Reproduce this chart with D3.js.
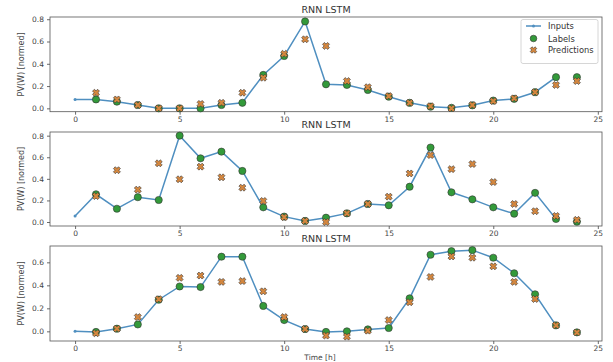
<!DOCTYPE html>
<html>
<head>
<meta charset="utf-8">
<script src="https://cdn.jsdelivr.net/npm/d3@7"></script>
<style>
  body { margin: 0; background: #fff; }
  text { font-family: "DejaVu Sans", sans-serif; }
</style>
</head>
<body>
<script>
"use strict"

var width = 613, height = 362;

// data, one array per panel and series
var inputIdx = d3.range(0, 24);
var labelIdx = d3.range(1, 25);

var inputs1 = [0.08, 0.08, 0.06, 0.03, 0.0, 0.0, 0.0, 0.03, 0.05, 0.30, 0.47, 0.78, 0.216, 0.21, 0.165, 0.105, 0.05, 0.015, 0.005, 0.027, 0.07, 0.085, 0.145, 0.28];
var labels1 = [0.08, 0.06, 0.03, 0.0, 0.0, 0.0, 0.03, 0.05, 0.30, 0.47, 0.78, 0.216, 0.21, 0.165, 0.105, 0.05, 0.015, 0.005, 0.027, 0.07, 0.085, 0.145, 0.28, 0.28];
var preds1  = [0.14, 0.08, 0.03, 0.0, 0.0, 0.04, 0.05, 0.14, 0.275, 0.49, 0.62, 0.56, 0.245, 0.19, 0.11, 0.05, 0.02, 0.0, 0.03, 0.065, 0.09, 0.145, 0.21, 0.245];

var inputs2 = [0.056, 0.257, 0.123, 0.23, 0.204, 0.80, 0.59, 0.652, 0.473, 0.136, 0.05, 0.01, 0.04, 0.08, 0.167, 0.155, 0.327, 0.69, 0.275, 0.21, 0.136, 0.077, 0.27, 0.028];
var labels2 = [0.257, 0.123, 0.23, 0.204, 0.80, 0.59, 0.652, 0.473, 0.136, 0.05, 0.01, 0.04, 0.08, 0.167, 0.155, 0.327, 0.69, 0.275, 0.21, 0.136, 0.077, 0.27, 0.028, 0.003];
var preds2  = [0.24, 0.48, 0.30, 0.544, 0.396, 0.513, 0.414, 0.318, 0.195, 0.045, 0.01, 0.0, 0.08, 0.167, 0.235, 0.45, 0.62, 0.49, 0.537, 0.37, 0.167, 0.10, 0.056, 0.02];

var inputs3 = [0.0, -0.005, 0.023, 0.06, 0.275, 0.39, 0.385, 0.649, 0.649, 0.221, 0.098, 0.02, -0.005, 0.0, 0.017, 0.029, 0.287, 0.666, 0.697, 0.706, 0.64, 0.505, 0.322, 0.052];
var labels3 = [-0.005, 0.023, 0.06, 0.275, 0.39, 0.385, 0.649, 0.649, 0.221, 0.098, 0.02, -0.005, 0.0, 0.017, 0.029, 0.287, 0.666, 0.697, 0.706, 0.64, 0.505, 0.322, 0.052, -0.009];
var preds3  = [-0.017, 0.023, 0.124, 0.28, 0.465, 0.485, 0.43, 0.437, 0.348, 0.124, 0.02, -0.037, -0.046, 0.006, 0.098, 0.253, 0.473, 0.651, 0.64, 0.565, 0.43, 0.281, 0.052, -0.01];

var yTicks1 = [0, 0.2, 0.4, 0.6, 0.8];
var yTicks3 = [0, 0.2, 0.4, 0.6];
var xTicks = [0, 5, 10, 15, 20, 25];

var panels = [
    {inputs: inputs1, labels: labels1, preds: preds1, yDomain: [-0.03, 0.82], yTicks: yTicks1, top: 17, bottom: 111.7},
    {inputs: inputs2, labels: labels2, preds: preds2, yDomain: [-0.037, 0.834], yTicks: yTicks1, top: 132, bottom: 226},
    {inputs: inputs3, labels: labels3, preds: preds3, yDomain: [-0.084, 0.742], yTicks: yTicks3, top: 246, bottom: 341}
];

var left = 50, right = 602;

var svg = d3.select("body").append("svg")
    .attr("width", width)
    .attr("height", height);

var x = d3.scaleLinear().domain([-1.2, 25.2]).range([left, right]);

var lineColor = "#4f8fc0",
    labelColor = "#339a3a",
    predColor = "#d4873f",
    edgeColor = "#333",
    textColor = "#444";

// fat X marker (matplotlib 'X')
function xMarker(s) {
    var a = s * 0.5, b = s * 0.27;
    return "M" + (-a) + "," + (-a + b) + "L" + (-a + b) + "," + (-a) + "L0," + (-b) +
        "L" + (a - b) + "," + (-a) + "L" + a + "," + (-a + b) + "L" + b + ",0" +
        "L" + a + "," + (a - b) + "L" + (a - b) + "," + a + "L0," + b +
        "L" + (-a + b) + "," + a + "L" + (-a) + "," + (a - b) + "L" + (-b) + ",0Z";
}

panels.forEach(function(p) {
    var y = d3.scaleLinear().domain(p.yDomain).range([p.bottom, p.top]);
    var g = svg.append("g");

    // axes
    var xAxis = d3.axisBottom(x).tickValues(xTicks).tickFormat(d3.format("d")).tickSize(3).tickPadding(2);
    var yAxis = d3.axisLeft(y).tickValues(p.yTicks).tickFormat(d3.format(".1f")).tickSize(3).tickPadding(3);

    var gx = g.append("g").attr("transform", "translate(0," + p.bottom + ")").call(xAxis);
    var gy = g.append("g").attr("transform", "translate(" + left + ",0)").call(yAxis);
    [gx, gy].forEach(function(a) {
        a.select(".domain").remove();
        a.selectAll("line").attr("stroke", "#444").attr("stroke-width", 0.8);
        a.selectAll("text").attr("fill", textColor).attr("font-size", "7.5px")
            .style("font-family", "'DejaVu Sans', sans-serif");
    });

    // frame
    g.append("rect")
        .attr("x", left).attr("y", p.top)
        .attr("width", right - left).attr("height", p.bottom - p.top)
        .attr("fill", "none").attr("stroke", "#555").attr("stroke-width", 0.8);

    // title
    g.append("text")
        .attr("x", 326).attr("y", p.top - 4)
        .attr("text-anchor", "middle").attr("font-size", "9.5px")
        .attr("fill", "#333")
        .text("RNN LSTM");

    // y label
    g.append("text")
        .attr("transform", "translate(" + 24 + "," + ((p.top + p.bottom) / 2) + ") rotate(-90)")
        .attr("text-anchor", "middle").attr("font-size", "8px")
        .attr("fill", textColor)
        .text("PV(W) [normed]");

    // inputs line
    var line = d3.line()
        .x(function(d, i) { return x(inputIdx[i]); })
        .y(function(d) { return y(d); });
    g.append("path")
        .datum(p.inputs)
        .attr("d", line)
        .attr("fill", "none")
        .attr("stroke", lineColor)
        .attr("stroke-width", 1.5);
    g.selectAll(".dot").data(p.inputs).enter().append("circle")
        .attr("cx", function(d, i) { return x(inputIdx[i]); })
        .attr("cy", function(d) { return y(d); })
        .attr("r", 1.5)
        .attr("fill", lineColor);

    // labels
    g.selectAll(".lab").data(p.labels).enter().append("circle")
        .attr("cx", function(d, i) { return x(labelIdx[i]); })
        .attr("cy", function(d) { return y(d); })
        .attr("r", 3.6)
        .attr("fill", labelColor)
        .attr("stroke", edgeColor).attr("stroke-width", 0.6);

    // predictions
    g.selectAll(".pred").data(p.preds).enter().append("path")
        .attr("transform", function(d, i) { return "translate(" + x(labelIdx[i]) + "," + y(d) + ")"; })
        .attr("d", xMarker(7))
        .attr("fill", predColor)
        .attr("stroke", edgeColor).attr("stroke-width", 0.6);
});

// x label
svg.append("text")
    .attr("x", 320).attr("y", 360)
    .attr("text-anchor", "middle").attr("font-size", "7.5px")
    .attr("fill", textColor)
    .text("Time [h]");

// legend in the first panel
var leg = svg.append("g");
leg.append("rect")
    .attr("x", 521).attr("y", 19.5)
    .attr("width", 77).attr("height", 44)
    .attr("rx", 2)
    .attr("fill", "#fff").attr("stroke", "#ccc").attr("stroke-width", 0.8);
leg.append("line")
    .attr("x1", 526).attr("x2", 541).attr("y1", 26).attr("y2", 26)
    .attr("stroke", lineColor).attr("stroke-width", 1.5);
leg.append("circle").attr("cx", 533.5).attr("cy", 26).attr("r", 1.5).attr("fill", lineColor);
leg.append("circle").attr("cx", 533.5).attr("cy", 38.5).attr("r", 3.3)
    .attr("fill", labelColor).attr("stroke", edgeColor).attr("stroke-width", 0.6);
leg.append("path").attr("transform", "translate(533.5,50)").attr("d", xMarker(6.5))
    .attr("fill", predColor).attr("stroke", edgeColor).attr("stroke-width", 0.6);
var legNames = ["Inputs", "Labels", "Predictions"];
var legY = [26, 38.5, 50];
leg.selectAll(".lt").data(legNames).enter().append("text")
    .attr("x", 548).attr("y", function(d, i) { return legY[i] + 3; })
    .attr("font-size", "8.3px").attr("fill", "#333")
    .text(function(d) { return d; });
</script>
</body>
</html>
